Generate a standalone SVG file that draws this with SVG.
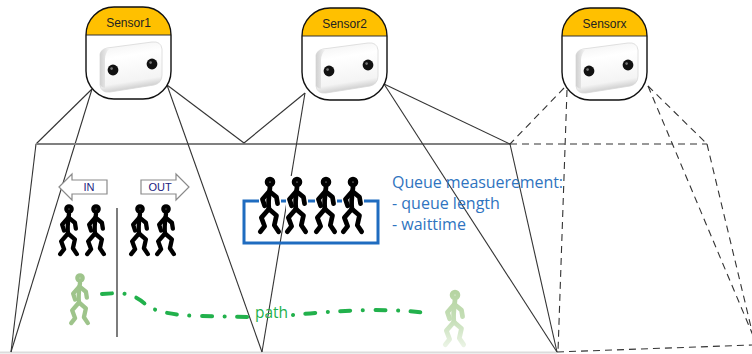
<svg xmlns="http://www.w3.org/2000/svg" xmlns:xlink="http://www.w3.org/1999/xlink" width="752" height="354" viewBox="0 0 752 354">
  <style>
    .solid { fill: none; stroke: #333; stroke-width: 1.1; }
    .rim { fill: none; stroke: #808080; stroke-width: 2; }
    .dash { fill: none; stroke: #333; stroke-width: 1.1; stroke-dasharray: 7 5; }
    .label { font-family: "Liberation Sans", Arial, sans-serif; font-size: 12px; fill: #222; text-anchor: middle; }
    .arrowtxt { font-family: "Liberation Sans", Arial, sans-serif; font-size: 11px; fill: #1a2380; text-anchor: middle; }
    .note { font-family: "Open Sans", "Liberation Sans", sans-serif; font-size: 16px; fill: #2f74c0; }
    .pathtxt { font-family: "Open Sans", "Liberation Sans", sans-serif; font-size: 15.5px; fill: #22b14c; }
    .ink { fill: none; stroke: #000; stroke-width: 4.4; stroke-linecap: round; stroke-linejoin: round; }
    .ghost1 { fill: none; stroke: #9ec48b; stroke-width: 4.4; stroke-linecap: round; stroke-linejoin: round; }
    .ghost2 { fill: none; stroke: url(#ghostFade); stroke-width: 4.4; stroke-linecap: round; stroke-linejoin: round; }
  </style>
  <defs>
    <linearGradient id="devFace" x1="0" y1="0" x2="0.2" y2="1">
      <stop offset="0" stop-color="#f0f0f0"/>
      <stop offset="0.35" stop-color="#ffffff"/>
      <stop offset="0.85" stop-color="#f4f4f4"/>
      <stop offset="1" stop-color="#cfcfcf"/>
    </linearGradient>
    <linearGradient id="devSide" x1="0" y1="0" x2="1" y2="0">
      <stop offset="0" stop-color="#d0d0d0"/>
      <stop offset="1" stop-color="#f6f6f6"/>
    </linearGradient>
    <linearGradient id="ghostFade" gradientUnits="userSpaceOnUse" x1="0" y1="-5" x2="0" y2="47">
      <stop offset="0" stop-color="#b4d3a0"/>
      <stop offset="0.55" stop-color="#c6dfb8"/>
      <stop offset="1" stop-color="#eaf3e4"/>
    </linearGradient>
    <filter id="soft" x="-30%" y="-20%" width="160%" height="140%">
      <feGaussianBlur stdDeviation="0.7"/>
    </filter>

    <!-- sensor housing: yellow title cap over a white rounded body -->
    <g id="housing">
      <rect x="0" y="0" width="85" height="92" rx="28" ry="28" fill="#fff"/>
      <path d="M0,28 A28,28 0 0 1 28,0 L57,0 A28,28 0 0 1 85,28 Z" fill="#ffc000"/>
      <line x1="0" y1="28" x2="85" y2="28" stroke="#333" stroke-width="1"/>
      <rect x="0" y="0" width="85" height="92" rx="28" ry="28" fill="none" stroke="#111" stroke-width="1.4"/>
      <!-- stereo camera unit -->
      <path d="M14,50 Q13,43 21,41 L66,35 Q75,34 76,42 L76,68 Q76,76 68,78 L24,85 Q15,86 14,78 Z" fill="url(#devFace)" stroke="#d8d8d8" stroke-width="0.8"/>
      <path d="M14,50 Q13,43 21,41 L24,41 Q19,46 19,52 L19,81 Q16,81 14,78 Z" fill="url(#devSide)"/>
      <circle cx="27" cy="63" r="5.4" fill="#111"/>
      <circle cx="66" cy="57" r="5.4" fill="#111"/>
      <circle cx="25.6" cy="61.6" r="1.3" fill="#777"/>
      <circle cx="64.6" cy="55.6" r="1.3" fill="#777"/>
    </g>

    <!-- walking stick figure, head centre at the origin; colour comes from the referencing element -->
    <g id="walker">
      <circle cx="0" cy="0" r="2.7"/>
      <path d="M0,5 C-1,12 -2,18 -1,25"/>
      <path d="M-1,9 L-7,16 L-5,22"/>
      <path d="M0,9 L6,14 L7,20"/>
      <path d="M-1,25 L-8,33 L-5,41 L-9,46"/>
      <path d="M-1,25 L6,31 L4,40 L8,46"/>
    </g>
  </defs>

  <!-- page edge -->
  <line x1="0" y1="352.5" x2="557" y2="352.5" stroke="#dcdcdc" stroke-width="2"/>

  <g id="connectors">
    <!-- Sensor1 field of view -->
    <line class="solid" x1="92" y1="89" x2="36" y2="144"/>
    <line class="solid" x1="92" y1="89" x2="11" y2="352"/>
    <line class="solid" x1="36" y1="144" x2="11" y2="352"/>
    <line class="rim" x1="36" y1="144" x2="510" y2="144"/>
    <line class="solid" x1="167" y1="85" x2="244" y2="143"/>
    <line class="solid" x1="167" y1="85" x2="262" y2="352"/>
    <!-- Sensor2 field of view -->
    <line class="solid" x1="244" y1="143" x2="305" y2="93"/>
    <line class="solid" x1="305" y1="93" x2="262" y2="352"/>
    <line class="solid" x1="384" y1="84" x2="510" y2="144"/>
    <line class="solid" x1="384" y1="84" x2="557" y2="352"/>
    <line class="solid" x1="510" y1="144" x2="557" y2="352"/>
    <!-- Sensorx field of view -->
    <line class="dash" x1="564" y1="88" x2="510" y2="144"/>
    <line class="dash" x1="567" y1="90" x2="558" y2="352"/>
    <line class="dash" x1="510" y1="144" x2="707" y2="144"/>
    <line class="dash" x1="648" y1="86" x2="707" y2="144"/>
    <line class="dash" x1="648" y1="86" x2="760" y2="352"/>
    <line class="dash" x1="707" y1="144" x2="757" y2="352"/>
    <line class="dash" x1="557" y1="352" x2="752" y2="345"/>
    <!-- in/out divider -->
    <line x1="117" y1="208" x2="117" y2="337" stroke="#111" stroke-width="1.1"/>
    <!-- walking path -->
    <path d="M102,294 L118,293 Q135,294 145,304 Q158,315 200,316 L250,317" fill="none" stroke="#22b14c" stroke-width="4" stroke-linecap="round" stroke-dasharray="10 12.5 0.1 12.4"/>
    <path d="M293,315 Q330,311 370,310 Q410,310 432,314" fill="none" stroke="#22b14c" stroke-width="4" stroke-linecap="round" stroke-dasharray="0.1 12.4 10 12.5"/>
  </g>

  <g id="sensor1" transform="translate(86,7)">
    <use href="#housing"/>
    <text class="label" x="42.5" y="20">Sensor1</text>
  </g>
  <g id="sensor2" transform="translate(302,8)">
    <use href="#housing"/>
    <text class="label" x="42.5" y="20">Sensor2</text>
  </g>
  <g id="sensorx" transform="translate(562,8)">
    <use href="#housing"/>
    <text class="label" x="42.5" y="20">Sensorx</text>
  </g>

  <g id="in-arrow">
    <path d="M59,187 L72,174 L72,180 L107,180 L107,194 L72,194 L72,200 Z" fill="#fff" stroke="#8a8a8a" stroke-width="1.2"/>
    <text class="arrowtxt" x="89" y="191">IN</text>
  </g>
  <g id="out-arrow">
    <path d="M141,180 L176,180 L176,174 L189,187 L176,200 L176,194 L141,194 Z" fill="#fff" stroke="#8a8a8a" stroke-width="1.2"/>
    <text class="arrowtxt" x="160" y="191">OUT</text>
  </g>

  <g id="walkers-in-out">
    <use href="#walker" class="ink" transform="translate(69,209) scale(0.98)"/>
    <use href="#walker" class="ink" transform="translate(96,209) scale(0.98)"/>
    <use href="#walker" class="ink" transform="translate(140,209) scale(0.98)"/>
    <use href="#walker" class="ink" transform="translate(166,209) scale(0.98)"/>
  </g>

  <g id="queue">
    <rect x="244" y="201" width="134" height="42" fill="none" stroke="#1f6cc0" stroke-width="3"/>
    <rect x="259" y="176" width="22" height="56" fill="#fff"/>
    <rect x="286" y="176" width="22" height="56" fill="#fff"/>
    <rect x="315" y="176" width="22" height="56" fill="#fff"/>
    <rect x="342" y="176" width="22" height="56" fill="#fff"/>
    <use href="#walker" class="ink" transform="translate(270,182) scale(1.08)"/>
    <use href="#walker" class="ink" transform="translate(297,182) scale(1.08)"/>
    <use href="#walker" class="ink" transform="translate(326,182) scale(1.08)"/>
    <use href="#walker" class="ink" transform="translate(353,182) scale(1.08)"/>
  </g>

  <g id="queue-note">
    <text class="note" x="392" y="188" textLength="171">Queue measuerement:</text>
    <text class="note" x="392" y="209">- queue length</text>
    <text class="note" x="392" y="230">- waittime</text>
  </g>

  <g id="walker-start" filter="url(#soft)">
    <use href="#walker" class="ghost1" transform="translate(80,278) scale(0.98)"/>
  </g>
  <g id="walker-end" filter="url(#soft)">
    <use href="#walker" class="ghost2" transform="translate(455,295) scale(1.08)"/>
  </g>

  <text id="path-label" class="pathtxt" x="255" y="318">path</text>
</svg>
